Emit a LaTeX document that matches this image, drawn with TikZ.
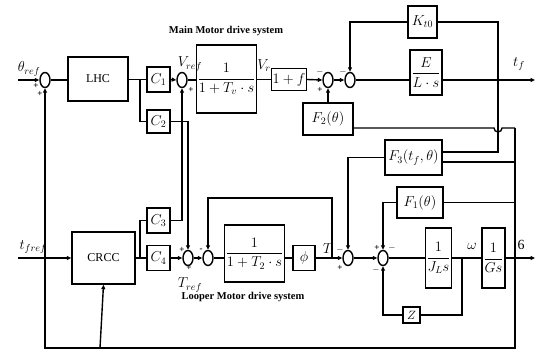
\documentclass[tikz,border=0pt]{standalone}
\usepackage{fontspec}
\setmainfont{Liberation Serif}
\usepackage{amsmath}
\usetikzlibrary{arrows.meta,shapes.geometric}
\begin{document}
\begin{tikzpicture}[x=1pt,y=-1pt,
  line width=1.4pt,
  blk/.style={draw, rectangle, inner sep=1pt, font=\fontsize{14}{16}\selectfont},
  wblk/.style={draw, rectangle, inner sep=1pt, font=\fontsize{12}{14}\selectfont},
  sumj/.style={draw, ellipse, minimum width=10pt, minimum height=15pt, inner sep=0pt},
  arr/.style={-{Triangle[length=4.5pt,width=4pt]}},
  sgn/.style={font=\fontsize{9}{9}\selectfont\bfseries, inner sep=0pt},
  lbl/.style={font=\fontsize{14}{16}\selectfont, inner sep=0pt},
  ttl/.style={font=\fontsize{10.5}{12}\selectfont\bfseries, inner sep=0pt}]
\useasboundingbox (0,0) rectangle (537,350);

% blocks
\node[wblk, minimum width=60pt, minimum height=44pt] (lhc) at (98,79) {LHC};
\node[wblk, minimum width=63pt, minimum height=52pt] (crcc) at (103.5,258) {CRCC};
\node[blk, minimum width=23pt, minimum height=25pt] (c1) at (158.5,79.5) {$C_1$};
\node[blk, minimum width=23pt, minimum height=23pt] (c2) at (158.5,121.5) {$C_2$};
\node[blk, minimum width=23pt, minimum height=25pt] (c3) at (158.5,220.5) {$C_3$};
\node[blk, minimum width=23pt, minimum height=25pt] (c4) at (158.5,258) {$C_4$};
\node[blk, minimum width=57pt, minimum height=68pt] (mb) at (226.5,79) {$\dfrac{1}{1+T_v\cdot s}$};
\node[blk, minimum width=28pt, minimum height=22pt] (onef) at (289,79.5) {$1+f$};
\node[blk, minimum width=29pt, minimum height=32pt] (k) at (422.5,22) {$K_{t0}$};
\node[blk, minimum width=32pt, minimum height=45pt] (els) at (426,72.5) {$\dfrac{E}{L\cdot s}$};
\node[blk, minimum width=50pt, minimum height=32pt] (f2) at (328,119) {$F_2(\theta)$};
\node[blk, minimum width=57pt, minimum height=35pt] (f3) at (413.5,157.5) {$F_3(t_f,\theta)$};
\node[blk, minimum width=46pt, minimum height=31pt] (f1) at (420,202.5) {$F_1(\theta)$};
\node[blk, minimum width=55pt, minimum height=57pt] (b2) at (254.5,253.5) {$\dfrac{1}{1+T_2\cdot s}$};
\node[blk, minimum width=22pt, minimum height=25pt] (phi) at (304,258) {$\phi$};
\node[blk, minimum width=23pt, minimum height=60pt] (jl) at (438.5,258) {$\dfrac{1}{J_L s}$};
\node[blk, minimum width=23pt, minimum height=60pt] (gs) at (493.5,258) {$\dfrac{1}{G s}$};
\node[blk, minimum width=17pt, minimum height=16pt, inner sep=0pt, font=\fontsize{12}{14}\selectfont] (z) at (411.5,315) {$Z$};

% summing junctions
\node[sumj] (s1) at (45,80) {};
\node[sumj] (s2) at (182,80) {};
\node[sumj] (s3) at (328,80) {};
\node[sumj] (s4) at (350,80) {};
\node[sumj] (s6) at (188,258) {};
\node[sumj] (s7) at (208,258) {};
\node[sumj] (s5) at (348,258) {};
\node[sumj] (s8) at (383,258) {};

% titles and labels
\node[ttl] (t1) at (226,31) {Main Motor drive system};
\node[ttl] (t2) at (243,297) {Looper Motor drive system};
\node[lbl] (lth) at (29,69) {$\theta_{ref}$};
\node[lbl] (ltf) at (33,247) {$t_{fref}$};
\node[lbl] (lvr) at (190,64) {$V_{ref}$};
\node[lbl] (lv) at (264,66) {$V_r$};
\node[lbl] (lt) at (519,64) {$t_f$};
\node[lbl] (ltr) at (190,285) {$T_{ref}$};
\node[lbl] (lT) at (328,249) {$T$};
\node[lbl] (lw) at (472,246) {$\omega$};
\node[lbl] (lo) at (521,245) {6};

% signs
\node[sgn] at (36,86) {+};
\node[sgn] at (40,94) {+};
\node[sgn] at (191,90) {+};
\node[sgn] at (320,72) {$-$};
\node[sgn] at (320,90) {+};
\node[sgn] at (343,72) {$-$};
\node[sgn] at (182,250) {+};
\node[sgn] at (189,268) {+};
\node[sgn] at (201,250) {-};
\node[sgn] at (340,250) {$-$};
\node[sgn] at (340,268) {+};
\node[sgn] at (377,248) {+};
\node[sgn] at (392,248) {$-$};
\node[sgn] at (376,270) {$-$};

% top row
\draw[arr] (18,80) -- (s1.west);
\draw (s1.east) -- (s1.east -| lhc.west);
\draw (lhc.east |- c1.west) -- (c1.west);
\draw (140,79.5) |- (c2.west);
\draw[arr] (c1.east) -- (s2.west);
\draw (s2.east) -- (s2.east -| mb.west);
\draw (mb.east |- onef.west) -- (onef.west);
\draw[arr] (onef.east) -- (s3.west);
\draw[arr] (s3.east) -- (s4.west);
\draw (s4.east) -- (s4.east -| els.west);
\draw[arr] (s4.east -| els.east) -- (535,80);
\draw (498,80) -- (498,22) -- (k.east);
\draw[arr] (k.west) -| (s4.north);
\draw (498,80) -- (498,152) -- ([yshift=5.5pt]f3.east);
\draw[arr] (f2.north) -- (s3.south);
\draw ([yshift=-9pt]f2.east) -- (494,128) arc[start angle=180,end angle=0,radius=4] -- (515,128);
\draw (515,162) -- ([yshift=-4.5pt]f3.east);
\draw (515,202.5) -- (f1.east);
\draw[arr] (515,128) -- (515,348) -- (45,348) -- (s1.south);
\draw[arr] (100,348) -- (crcc.south);
\draw[arr] (f3.west) -| (s5.north);
\draw[arr] (f1.west) -| (s8.north);

% cross links
\draw[arr] (c3.east) -| (s2.south);
\draw[arr] (c2.east) -| (s6.north);

% bottom row
\draw[arr] (18,258) -- (crcc.west);
\draw (crcc.east) -- (c4.west);
\draw (140,258) |- (c3.west);
\draw[arr] (c4.east) -- (s6.west);
\draw[arr] (s6.east) -- (s7.west);
\draw (s7.east) -- (s7.east -| b2.west);
\draw (b2.east |- phi.west) -- (phi.west);
\draw[arr] (phi.east) -- (s5.west);
\draw[arr] (332,258) -- (332,198) -| (s7.north);
\draw[arr] (s5.east) -- (s8.west);
\draw (s8.east) -- (jl.west);
\draw (jl.east) -- (gs.west);
\draw[arr] (gs.east) -- (535,258);
\draw (462,258) -- (462,315) -- (z.east);
\draw[arr] (z.west) -| (s8.south);
\end{tikzpicture}
\end{document}
